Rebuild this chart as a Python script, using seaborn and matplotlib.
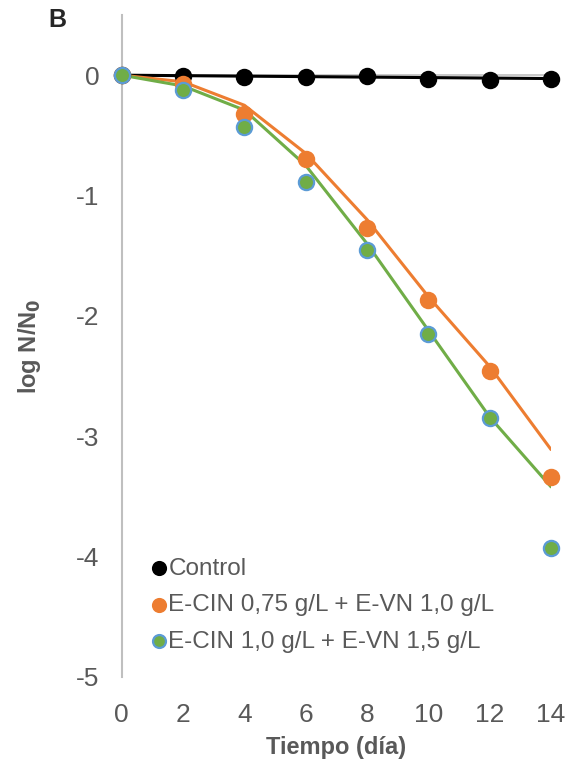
import matplotlib
matplotlib.use("Agg")
import matplotlib.pyplot as plt
import seaborn as sns
import pandas as pd

sns.set_style("white")
plt.rcParams['font.family'] = ['Liberation Sans', 'DejaVu Sans']
plt.rcParams['axes.unicode_minus'] = False

dias = [0, 2, 4, 6, 8, 10, 12, 14]
control = [0, -0.01, -0.014, -0.014, -0.008, -0.028, -0.036, -0.033]
control_fit = [0, -0.004, -0.008, -0.012, -0.016, -0.02, -0.024, -0.028]
cin075 = [0, -0.07, -0.32, -0.70, -1.27, -1.87, -2.46, -3.34]
cin075_fit = [0, -0.055, -0.25, -0.65, -1.20, -1.84, -2.42, -3.11]
cin10 = [0, -0.12, -0.43, -0.89, -1.45, -2.15, -2.85, -3.93]
cin10_fit = [0, -0.09, -0.29, -0.75, -1.40, -2.12, -2.84, -3.42]

labels = ["Control", "E-CIN 0,75 g/L + E-VN 1,0 g/L", "E-CIN 1,0 g/L + E-VN 1,5 g/L"]

fig = plt.figure(figsize=(5.8, 7.69), dpi=100)
ax = fig.add_axes([0.210, 1 - 677 / 769, 0.740, 662 / 769])

grey = "#595959"
ax.axhline(0, color="#BFBFBF", lw=1.2, zorder=1)

series = [
    (control, control_fit, "black", "black", labels[0]),
    (cin075, cin075_fit, "#ED7D31", "#ED7D31", labels[1]),
    (cin10, cin10_fit, "#70AD47", "#5B9BD5", labels[2]),
]
for pts, fit, col, edge, lab in series:
    sns.lineplot(x=dias, y=fit, ax=ax, color=col, lw=2.2, zorder=2, legend=False)
for pts, fit, col, edge, lab in series:
    sns.scatterplot(x=dias, y=pts, ax=ax, color=col, edgecolor=edge, linewidth=1.6,
                    s=120, zorder=3, label=lab, clip_on=False)

ax.set_xlim(0, 14)
ax.set_ylim(-5, 0.5)
ax.set_xticks(range(0, 15, 2))
ax.set_yticks([0, -1, -2, -3, -4, -5])
ax.tick_params(axis='both', length=0, labelsize=19, colors=grey)
ax.tick_params(axis='x', pad=19)
ax.tick_params(axis='y', pad=16)
for s in ["top", "right", "bottom"]:
    ax.spines[s].set_visible(False)
ax.spines["left"].set_color("#BFBFBF")
ax.spines["left"].set_linewidth(1.5)

ax.set_xlabel("Tiempo (día)", fontsize=17, fontweight="bold", color=grey, labelpad=6)
ax.set_ylabel("log N/N$_\\mathbf{0}$", fontsize=17, fontweight="bold", color=grey, labelpad=24)

leg = ax.legend(loc="lower left", bbox_to_anchor=(0.035, 0.022), frameon=False, fontsize=17.5,
                handletextpad=-0.1, labelspacing=0.6, borderaxespad=0, handlelength=1.0,
                markerscale=0.85)
for t in leg.get_texts():
    t.set_color(grey)

fig.text(48 / 580, 1 - 20 / 769, "B", fontsize=18, fontweight="bold", ha="left", va="center")

fig.savefig("out.png", dpi=100)
